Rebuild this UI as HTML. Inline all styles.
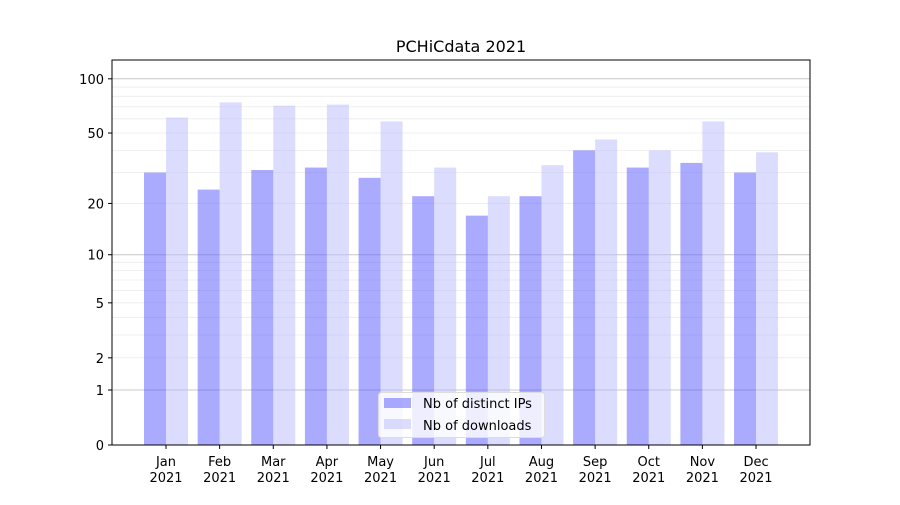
<!DOCTYPE html>
<html><head><meta charset="utf-8"><style>
body{margin:0;background:#fff}
svg text{font-family:"DejaVu Sans","Liberation Sans",sans-serif;fill:#000}
</style></head><body>
<svg id="chart" width="900" height="500" xmlns="http://www.w3.org/2000/svg">
<rect width="900" height="500" fill="#fff"/>
<g id="grid"></g><g id="bars"></g><g id="axes"></g>
</svg>
<script>
const months = ["Jan","Feb","Mar","Apr","May","Jun","Jul","Aug","Sep","Oct","Nov","Dec"];
const ips = [30,24,31,32,28,22,17,22,40,32,34,30];
const downloads = [61,74,71,72,58,32,22,33,46,40,58,39];
const yTicks = [0,1,2,5,10,20,50,100];
const majorGrid = [1,10,100];
const minorGrid = [2,3,4,5,6,7,8,9,20,30,40,50,60,70,80,90];
const NS="http://www.w3.org/2000/svg";
const L=112,R=810,T=60,B=445;
function y(v){return B-Math.log10(1+v)*182.7;}
function xc(i){return 166+i*53.64;}
function mk(tag,attrs,parent){const e=document.createElementNS(NS,tag);for(const k in attrs)e.setAttribute(k,attrs[k]);parent.appendChild(e);return e;}
const grid=document.getElementById('grid'),bars=document.getElementById('bars'),axes=document.getElementById('axes');
minorGrid.forEach(v=>{const l=mk('line',{x1:L,x2:R,y1:y(v),y2:y(v),stroke:'#ebebeb','stroke-width':0.8},grid);

});
majorGrid.forEach(v=>{const l=mk('line',{x1:L,x2:R,y1:y(v),y2:y(v),stroke:'#c8c8c8','stroke-width':1},grid);

});
months.forEach((m,i)=>{
  const a=mk('rect',{x:xc(i)-22,y:y(ips[i]),width:22,height:B-y(ips[i]),fill:'rgba(85,85,255,0.5)'},bars);
  
  
  const b=mk('rect',{x:xc(i),y:y(downloads[i]),width:22,height:B-y(downloads[i]),fill:'rgba(185,185,255,0.5)'},bars);
  
  
  mk('line',{x1:xc(i),x2:xc(i),y1:B,y2:B+4,stroke:'#000'},axes);
  const t=mk('text',{x:xc(i),y:B+21,'text-anchor':'middle','font-size':13},axes);t.textContent=m;
  
  
  const t2=mk('text',{x:xc(i),y:B+37,'text-anchor':'middle','font-size':13},axes);t2.textContent='2021';
  
  
});
yTicks.forEach(v=>{
  mk('line',{x1:L-4,x2:L,y1:y(v),y2:y(v),stroke:'#000'},axes);
  const t=mk('text',{x:L-8,y:y(v)+5,'text-anchor':'end','font-size':13},axes);t.textContent=v;
  
  
});
const fr=mk('rect',{x:L,y:T,width:R-L,height:B-T,fill:'none',stroke:'#000','stroke-width':1},axes);


const ti=mk('text',{x:461,y:52,'text-anchor':'middle','font-size':16},axes);ti.textContent='PCHiCdata 2021';


const lg=mk('g',{},axes);


mk('rect',{x:378.5,y:392.5,width:166,height:45,rx:3,fill:'rgba(255,255,255,0.8)',stroke:'#ddd'},lg);
mk('rect',{x:384,y:398,width:27,height:10,fill:'rgba(85,85,255,0.5)'},lg);
mk('rect',{x:384,y:419,width:27,height:10,fill:'rgba(185,185,255,0.5)'},lg);
const l1=mk('text',{x:423,y:408,'font-size':13},lg);l1.textContent='Nb of distinct IPs';


const l2=mk('text',{x:423,y:430,'font-size':13},lg);l2.textContent='Nb of downloads';


</script>
</body></html>
